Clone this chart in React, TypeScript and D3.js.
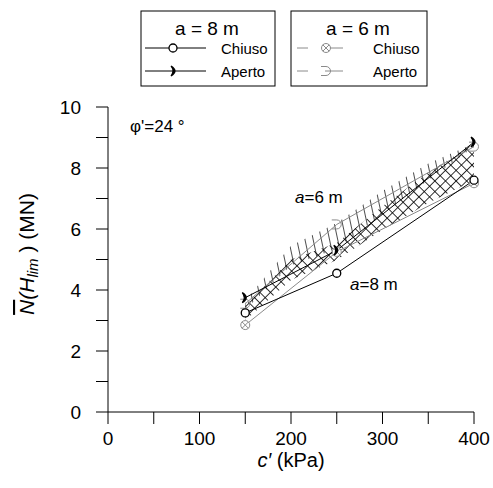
import React from "react";
import * as d3 from "d3";

// c' (kPa)
const cVals = [150, 250, 400];
// N(Hlim) MN
const a8Chiuso = [3.25, 4.55, 7.6];
const a8Aperto = [3.75, 5.3, 8.85];
const a6Chiuso = [2.85, 5.25, 7.5];
const a6Aperto = [3.55, 6.15, 8.7];

// hatched bands
const bandC = [150, 200, 250, 300, 350, 400];
const crossLow = [3.0, 4.33, 4.98, 5.97, 6.85, 7.6];
const crossHigh = [3.5, 5.0, 5.54, 6.75, 7.85, 8.8];
const hatchLow = [3.35, 4.8, 5.35, 6.5, 7.6, 8.7];
const hatchHigh = [3.65, 5.45, 6.2, 7.25, 8.15, 8.8];

const xTicks = [0, 50, 100, 150, 200, 250, 300, 350, 400];
const xLabels = [0, 100, 200, 300, 400];
const yTicks = [0, 1, 2, 3, 4, 5, 6, 7, 8, 9, 10];
const yLabels = [0, 2, 4, 6, 8, 10];

const FONT = "'Liberation Sans', Arial, sans-serif";
const GRAY = "#8a8a8a";

const x = d3.scaleLinear().domain([0, 400]).range([108, 474]);
const y = d3.scaleLinear().domain([0, 10]).range([412, 107]);

const line = d3
  .line<[number, number]>()
  .x((d) => x(d[0]))
  .y((d) => y(d[1]));

const band = (lo: number[], hi: number[]) =>
  d3
    .area<number>()
    .x((d) => x(d))
    .y0((_, i) => y(lo[i]))
    .y1((_, i) => y(hi[i]))(bandC) || "";

const pts = (vals: number[]) => cVals.map((c, i) => [c, vals[i]] as [number, number]);

function OpenCircle({ cx, cy }: { cx: number; cy: number }) {
  return <circle cx={cx} cy={cy} r={4} fill="white" stroke="black" strokeWidth={1.3} />;
}

function Crescent({ cx, cy }: { cx: number; cy: number }) {
  return (
    <path
      d={`M${cx - 3},${cy - 5} Q${cx + 5},${cy} ${cx - 3},${cy + 5} Q${cx + 1},${cy} ${cx - 3},${cy - 5}Z`}
      fill="black"
      stroke="black"
      strokeWidth={1.2}
    />
  );
}

function CrossCircle({ cx, cy }: { cx: number; cy: number }) {
  const k = 3.2;
  return (
    <g stroke={GRAY} strokeWidth={1} fill="white">
      <circle cx={cx} cy={cy} r={4.5} />
      <line x1={cx - k} y1={cy - k} x2={cx + k} y2={cy + k} />
      <line x1={cx - k} y1={cy + k} x2={cx + k} y2={cy - k} />
    </g>
  );
}

function OpenArc({ cx, cy }: { cx: number; cy: number }) {
  return (
    <path
      d={`M${cx - 5},${cy - 4.5} L${cx},${cy - 4.5} A4.5,4.5 0 0 1 ${cx},${cy + 4.5} L${cx - 5},${cy + 4.5}`}
      fill="none"
      stroke={GRAY}
      strokeWidth={1}
    />
  );
}

export default function App() {
  return (
    <svg width={493} height={488} style={{ display: "block", position: "absolute", left: 0, top: 0 }} fontFamily={FONT}>
      <defs>
        <pattern id="cross" width={7.5} height={7.5} patternUnits="userSpaceOnUse" patternTransform="rotate(45)">
          <line x1={0} y1={0} x2={0} y2={7.5} stroke="black" strokeWidth={1.6} />
          <line x1={0} y1={0} x2={7.5} y2={0} stroke="black" strokeWidth={1.6} />
        </pattern>
        <pattern id="vhatch" width={8} height={8} patternUnits="userSpaceOnUse" patternTransform="rotate(-12)">
          <line x1={0} y1={0} x2={0} y2={8} stroke="black" strokeWidth={1.4} />
        </pattern>
      </defs>
      <rect width={493} height={488} fill="white" />

      {/* hatched bands */}
      <path d={band(hatchLow, hatchHigh)} fill="url(#vhatch)" stroke="none" />
      <path d={band(crossLow, crossHigh)} fill="url(#cross)" stroke="none" />

      {/* series lines */}
      <path d={line(pts(a6Chiuso)) || ""} fill="none" stroke={GRAY} strokeWidth={1} />
      <path d={line(pts(a6Aperto)) || ""} fill="none" stroke={GRAY} strokeWidth={1} />
      <path d={line(pts(a8Chiuso)) || ""} fill="none" stroke="black" strokeWidth={1} />
      <path d={line(pts(a8Aperto)) || ""} fill="none" stroke="black" strokeWidth={1} />

      {cVals.map((c, i) => (
        <g key={c}>
          <CrossCircle cx={x(c)} cy={y(a6Chiuso[i])} />
          <OpenArc cx={x(c)} cy={y(a6Aperto[i])} />
          <OpenCircle cx={x(c)} cy={y(a8Chiuso[i])} />
          <Crescent cx={x(c)} cy={y(a8Aperto[i])} />
        </g>
      ))}

      {/* axes */}
      <g stroke="black" strokeWidth={1}>
        <line x1={x(0)} y1={y(0)} x2={x(400)} y2={y(0)} />
        <line x1={x(0)} y1={y(0)} x2={x(0)} y2={y(10)} />
        {xTicks.map((t) => (
          <line key={t} x1={x(t)} x2={x(t)} y1={y(0)} y2={y(0) + 12} />
        ))}
        {yTicks.map((t) => (
          <line key={t} x1={x(0) - 12} x2={x(0)} y1={y(t)} y2={y(t)} />
        ))}
      </g>
      {xLabels.map((t) => (
        <text key={t} x={x(t)} y={445} fontSize={19} textAnchor="middle">
          {t}
        </text>
      ))}
      {yLabels.map((t) => (
        <text key={t} x={81} y={y(t) + 7} fontSize={19} textAnchor="end">
          {t}
        </text>
      ))}
      <text x={291} y={467} fontSize={20} textAnchor="middle">
        <tspan fontStyle="italic">c′</tspan> (kPa)
      </text>
      <text transform="translate(34,254) rotate(-90)" fontSize={21} textAnchor="middle">
        <tspan fontStyle="italic" textDecoration="overline">N</tspan>
        <tspan fontStyle="italic">(H</tspan>
        <tspan fontStyle="italic" fontSize={15} dy={4}>lim</tspan>
        <tspan dy={-4}> ) (MN)</tspan>
      </text>

      {/* annotations */}
      <text x={130} y={132} fontSize={17}>φ'=24 °</text>
      <text x={295} y={203} fontSize={17}>
        <tspan fontStyle="italic">a</tspan>=6 m
      </text>
      <text x={350} y={290} fontSize={17}>
        <tspan fontStyle="italic">a</tspan>=8 m
      </text>

      {/* legend a = 8 m */}
      <rect x={141} y={11} width={134} height={75} fill="white" stroke="black" strokeWidth={1} />
      <text x={207} y={35} fontSize={19} textAnchor="middle">a = 8 m</text>
      <line x1={145} x2={206} y1={48} y2={48} stroke="black" />
      <OpenCircle cx={173} cy={48} />
      <text x={221} y={54} fontSize={15}>Chiuso</text>
      <line x1={145} x2={206} y1={71} y2={71} stroke="black" />
      <Crescent cx={174} cy={71} />
      <text x={221} y={77} fontSize={15}>Aperto</text>

      {/* legend a = 6 m */}
      <rect x={291} y={11} width={136} height={75} fill="white" stroke="black" strokeWidth={1} />
      <text x={358} y={35} fontSize={19} textAnchor="middle">a = 6 m</text>
      <line x1={297} x2={308} y1={48} y2={48} stroke={GRAY} />
      <line x1={325} x2={343} y1={48} y2={48} stroke={GRAY} />
      <CrossCircle cx={326} cy={48} />
      <text x={373} y={54} fontSize={15}>Chiuso</text>
      <line x1={297} x2={308} y1={71} y2={71} stroke={GRAY} />
      <line x1={325} x2={343} y1={71} y2={71} stroke={GRAY} />
      <OpenArc cx={326} cy={71} />
      <text x={373} y={77} fontSize={15}>Aperto</text>
    </svg>
  );
}
